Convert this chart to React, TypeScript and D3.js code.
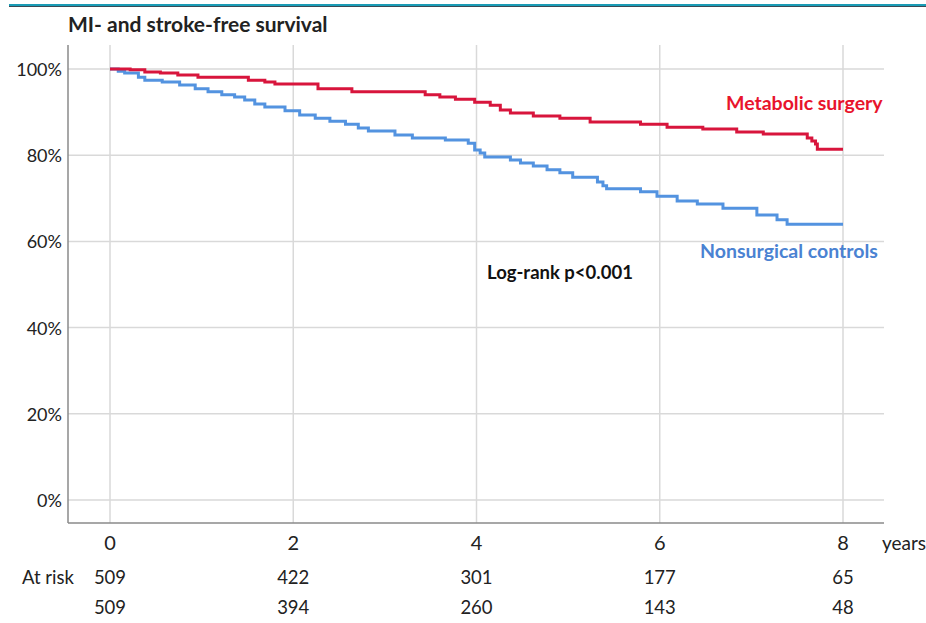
import React from "react";
import * as d3 from "d3";

// Kaplan–Meier step points: time in years, survival in %
const surgeryTimes = [0, 0.22, 0.38, 0.55, 0.74, 0.96, 1.51, 1.69, 1.8, 2.27, 2.64, 3.44, 3.6, 3.77, 3.98, 4.15, 4.26, 4.37, 4.62, 4.91, 5.24, 5.79, 6.08, 6.47, 6.84, 7.13, 7.61, 7.66, 7.7, 7.72, 8];
const surgerySurvival = [100, 99.8, 99.3, 99.1, 98.6, 98.1, 97.4, 97.0, 96.5, 95.4, 94.7, 94.0, 93.5, 93.0, 92.3, 91.6, 90.5, 89.8, 89.1, 88.6, 87.7, 87.2, 86.5, 86.1, 85.4, 84.9, 84.0, 83.3, 82.6, 81.4, 81.4];

const controlTimes = [0, 0.09, 0.16, 0.31, 0.38, 0.57, 0.76, 0.93, 1.07, 1.22, 1.36, 1.47, 1.58, 1.69, 1.91, 2.07, 2.24, 2.4, 2.57, 2.71, 2.82, 3.11, 3.3, 3.66, 3.91, 3.98, 4.04, 4.09, 4.37, 4.48, 4.62, 4.77, 4.91, 5.05, 5.32, 5.38, 5.42, 5.79, 5.97, 6.19, 6.41, 6.69, 7.06, 7.28, 7.39, 8];
const controlSurvival = [100, 99.5, 99.1, 98.1, 97.4, 97.0, 96.3, 95.4, 94.7, 94.0, 93.5, 92.8, 91.9, 91.2, 90.3, 89.3, 88.6, 87.9, 87.2, 86.3, 85.6, 84.7, 84.0, 83.5, 82.8, 81.2, 80.5, 79.6, 78.9, 78.2, 77.5, 76.6, 75.9, 74.9, 73.8, 72.9, 72.2, 71.5, 70.5, 69.4, 68.7, 67.7, 66.1, 65.0, 64.0, 64.0];

const yTicks = [0, 20, 40, 60, 80, 100];
const xTicks = [0, 2, 4, 6, 8];
const atRiskSurgery = [509, 422, 301, 177, 65];
const atRiskControl = [509, 394, 260, 143, 48];

const FONT = "Lato, 'Open Sans', sans-serif";
const RED = "#d8153c";
const BLUE = "#5393e0";

export default function App() {
  const x = d3.scaleLinear().domain([0, 8]).range([110, 843]);
  const y = d3.scaleLinear().domain([0, 100]).range([500, 69]);

  const line = d3
    .line<[number, number]>()
    .x((d) => x(d[0]))
    .y((d) => y(d[1]))
    .curve(d3.curveStepAfter);

  const surgery = surgeryTimes.map((t, i) => [t, surgerySurvival[i]] as [number, number]);
  const control = controlTimes.map((t, i) => [t, controlSurvival[i]] as [number, number]);

  const left = 68;
  const right = 884;
  const top = 45;
  const bottom = 523;

  return (
    <svg
      width={926}
      height={623}
      style={{ position: "absolute", left: 0, top: 0, background: "#fff" }}
      fontFamily={FONT}
    >
      {/* header rule */}
      <rect x={9} y={4} width={917} height={2} fill="#1a9cb6" />
      <rect x={9} y={6} width={917} height={1} fill="#3a4a55" />

      <text x={68} y={32} fontSize={21} fontWeight={700} fill="#222">
        MI- and stroke-free survival
      </text>

      {/* grid */}
      {yTicks.map((v) => (
        <line key={"h" + v} x1={left} x2={right} y1={y(v)} y2={y(v)} stroke="#d9d9d9" strokeWidth={1.5} />
      ))}
      {xTicks.map((v) => (
        <line key={"v" + v} x1={x(v)} x2={x(v)} y1={top} y2={bottom} stroke="#d9d9d9" strokeWidth={1.5} />
      ))}

      {/* axes */}
      <line x1={left} x2={left} y1={top} y2={bottom} stroke="#8a8a8a" strokeWidth={1.5} />
      <line x1={left} x2={right} y1={bottom} y2={bottom} stroke="#8a8a8a" strokeWidth={1.5} />

      {yTicks.map((v) => (
        <text key={"yl" + v} x={62} y={y(v)} textAnchor="end" dominantBaseline="central" fontSize={18} fill="#222">
          {v}%
        </text>
      ))}
      {xTicks.map((v) => (
        <text key={"xl" + v} x={x(v)} y={542} textAnchor="middle" dominantBaseline="central" fontSize={20} fill="#222">
          {v}
        </text>
      ))}
      <text x={882} y={542} dominantBaseline="central" fontSize={19} fill="#222">
        years
      </text>

      {/* curves */}
      <path d={line(control) ?? ""} fill="none" stroke={BLUE} strokeWidth={3} />
      <path d={line(surgery) ?? ""} fill="none" stroke={RED} strokeWidth={3} />

      {/* labels */}
      <text x={726} y={102} dominantBaseline="central" fontSize={19.5} fontWeight={700} fill="#e8142c">
        Metabolic surgery
      </text>
      <text x={700} y={250} dominantBaseline="central" fontSize={19.5} fontWeight={700} fill="#4a82d2">
        Nonsurgical controls
      </text>
      <text x={487} y={272} dominantBaseline="central" fontSize={18.5} fontWeight={700} fill="#111">
        Log-rank p&lt;0.001
      </text>

      {/* numbers at risk */}
      <text x={22} y={577} dominantBaseline="central" fontSize={18.5} fill="#222">
        At risk
      </text>
      {xTicks.map((v, i) => (
        <text key={"r1" + v} x={x(v)} y={577} textAnchor="middle" dominantBaseline="central" fontSize={18.5} fill="#222">
          {atRiskSurgery[i]}
        </text>
      ))}
      {xTicks.map((v, i) => (
        <text key={"r2" + v} x={x(v)} y={607} textAnchor="middle" dominantBaseline="central" fontSize={18.5} fill="#222">
          {atRiskControl[i]}
        </text>
      ))}
    </svg>
  );
}
